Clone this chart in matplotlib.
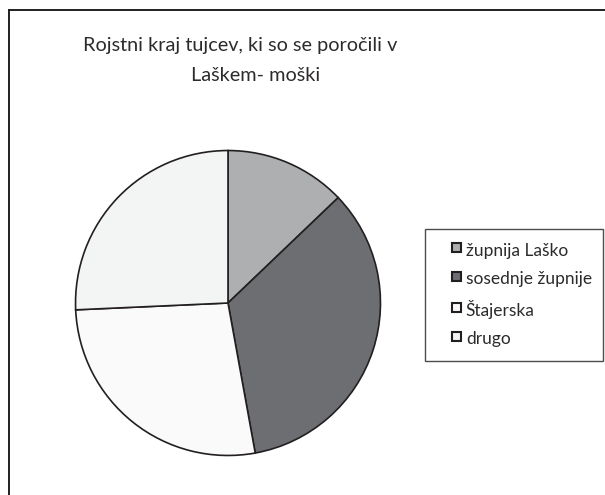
import matplotlib
matplotlib.use("Agg")
import matplotlib.pyplot as plt
from matplotlib.lines import Line2D
from matplotlib.patches import Rectangle, Patch
from matplotlib.legend_handler import HandlerPatch

# data
labels = ["župnija Laško", "sosednje župnije", "Štajerska", "drugo"]
values = [9, 24, 19, 18]
colors = ["#aeafb1", "#6d6e71", "#fafafa", "#f3f4f4"]

title_1 = "Rojstni kraj tujcev, ki so se poročili v"
title_2 = "Laškem- moški"

W, H = 605, 495
INK = "#231f20"
plt.rcParams["font.family"] = ["Lato", "DejaVu Sans"]

fig = plt.figure(figsize=(W / 100, H / 100), dpi=100)
fig.patch.set_facecolor("white")

# outer chart frame (only top and left edges visible)
fig.add_artist(Line2D([9 / W, 1], [1 - 10 / H, 1 - 10 / H], color=INK, lw=1.4))
fig.add_artist(Line2D([9 / W, 9 / W], [0, 1 - 10 / H], color=INK, lw=1.4))

# pie
cx, cy, r = 228, H - 303, 154
ax = fig.add_axes([(cx - r) / W, (cy - r) / H, 2 * r / W, 2 * r / H])
wedges, _ = ax.pie(values, colors=colors, startangle=90, counterclock=False,
                   radius=1, wedgeprops=dict(edgecolor=INK, linewidth=1.2))
ax.set_xlim(-1.01, 1.01)
ax.set_ylim(-1.01, 1.01)
ax.set_aspect("equal")
ax.axis("off")

# title, two lines as in the reference
fig.text(240 / W, 1 - 51 / H, title_1, ha="center", va="baseline",
         fontsize=14.3, color="#2d2a2b")
fig.text(256 / W, 1 - 81 / H, title_2, ha="center", va="baseline",
         fontsize=14.3, color="#2d2a2b")


# small square sitting at the right end of the handle box
def square(legend, orig_handle, xdescent, ydescent, width, height, fontsize):
    s = 6.5
    return Rectangle((-xdescent + width - s, -ydescent + (height - s) / 2 + 1.5), s, s)


handles = [Patch(facecolor=c, edgecolor=INK, linewidth=1.5) for c in colors]
leg = fig.legend(handles, labels, loc="upper left",
                 bbox_to_anchor=(425 / W, 1 - 229 / H - 0.01, 178 / W, 0.01),
                 mode="expand", borderaxespad=0, fontsize=12.5,
                 handlelength=1.25, handleheight=0.7, handletextpad=0.3,
                 labelspacing=0.72, borderpad=0.8, fancybox=False,
                 frameon=True, edgecolor=INK,
                 handler_map={Patch: HandlerPatch(patch_func=square)})
leg.get_frame().set_linewidth(1.0)
for t in leg.get_texts():
    t.set_color("#2d2a2b")

fig.savefig("out.png", dpi=100)
